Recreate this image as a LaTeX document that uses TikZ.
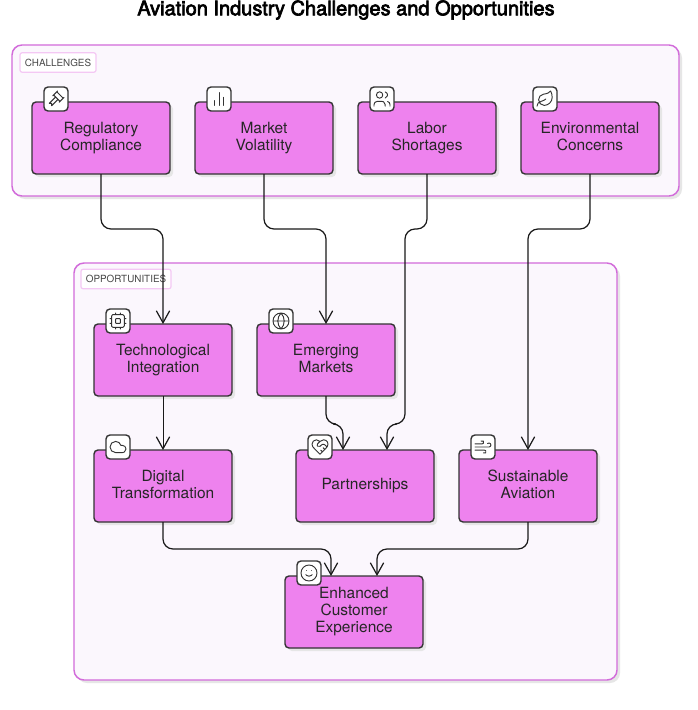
\documentclass[tikz,border=0pt]{standalone}
\usepackage{fontspec}
\setmainfont{TeX Gyre Heros}
\usetikzlibrary{arrows.meta,shadows,svg.path}
\definecolor{boxfill}{HTML}{EE82EE}
\definecolor{boxline}{HTML}{333333}
\definecolor{groupfill}{HTML}{FBF7FD}
\definecolor{groupline}{HTML}{D26BDA}
\definecolor{labelline}{HTML}{F4C8F4}
\definecolor{shade}{HTML}{E6E6E6}
\newcommand{\firststrut}{\rule{0pt}{10pt}}
\tikzset{
  shadowed/.style={drop shadow={shadow xshift=2.25pt,shadow yshift=-2.25pt,fill=shade,opacity=1}},
  groupbox/.style={draw=groupline,fill=groupfill,line width=1.1pt,rounded corners=7.5pt,shadowed,outer sep=0pt,inner sep=0pt},
  grouplabel/.style={draw=labelline,fill=white,line width=.9pt,rounded corners=1.5pt,text=boxline!90,font=\fontsize{7.4}{9}\selectfont,inner sep=0pt,outer sep=0pt,minimum height=14.5pt},
  card/.style={draw=boxline,fill=boxfill,line width=1.05pt,rounded corners=3pt,minimum width=103.5pt,minimum height=54pt,inner sep=0pt,outer sep=0pt,align=center,text=black!85,font=\fontsize{11.6}{12.75}\selectfont,shadowed},
  iconbox/.style={draw=boxline,fill=white,line width=1.05pt,rounded corners=3pt,minimum width=18pt,minimum height=18pt,inner sep=0pt,outer sep=0pt},
  glyph/.style={draw=boxline,line width=.7pt,line cap=round,line join=round,fill=none},
  link/.style={draw=black!90,line width=.9pt,rounded corners=7.5pt,-{Straight Barb[length=9pt,width=10pt,line width=.9pt]}},
}
\newcommand{\glyphat}[2]{\begin{scope}[shift={(#1.center)}]\begin{scope}[cm={0.6,0,0,-0.6,(-7.2pt,7.2pt)}]#2\end{scope}\end{scope}}
\begin{document}
\begin{tikzpicture}[x=.75pt,y=-.75pt]
\useasboundingbox (0,0) rectangle (697,710);
\fill[white] (0,0) rectangle (697,710);
\node[font=\fontsize{15}{17}\selectfont,text=black] (title) at (346,10) {\special{pdf:literal direct 2 Tr 0.5 w}Aviation Industry Challenges and Opportunities\special{pdf:literal direct 0 Tr}};
% groups
\node[groupbox,minimum width=500.25pt,minimum height=113.25pt] (gch) at (345.5,120.5) {};
\node[groupbox,minimum width=407.25pt,minimum height=312.75pt] (gop) at (345.5,471.5) {};
\node[grouplabel,minimum width=57pt] (lch) at (58,62.5) {CHALLENGES};
\node[grouplabel,minimum width=67.5pt] (lop) at (126,279) {OPPORTUNITIES};
% cards
\node[card] (reg) at (101,138) {\firststrut Regulatory\strut\\Compliance\strut};
\node[card] (mar) at (264,138) {\firststrut Market\strut\\Volatility\strut};
\node[card] (lab) at (427,138) {\firststrut Labor\strut\\Shortages\strut};
\node[card] (env) at (590,138) {\firststrut Environmental\strut\\Concerns\strut};
\node[card] (tec) at (163,360) {\firststrut Technological\strut\\Integration\strut};
\node[card] (eme) at (326,360) {\firststrut Emerging\strut\\Markets\strut};
\node[card] (dig) at (163,486) {\firststrut Digital\strut\\Transformation\strut};
\node[card] (par) at (365,486) {Partnerships\strut};
\node[card] (sus) at (528,486) {\firststrut Sustainable\strut\\Aviation\strut};
\node[card] (enh) at (354,612) {Enhanced\strut\\Customer\strut\\Experience\strut};
% icon boxes
\node[iconbox] (ireg) at (56,99) {};
\node[iconbox] (imar) at (219,99) {};
\node[iconbox] (ilab) at (382,99) {};
\node[iconbox] (ienv) at (545,99) {};
\node[iconbox] (itec) at (118,321) {};
\node[iconbox] (ieme) at (281,321) {};
\node[iconbox] (idig) at (118,447) {};
\node[iconbox] (ipar) at (320,447) {};
\node[iconbox] (isus) at (483,447) {};
\node[iconbox] (ienh) at (309,573) {};
% icon glyphs
\glyphat{ireg}{\draw[glyph] svg {M 14.5 12.5 L 6.5 20.5 A 2.119 2.119 0 1 1 3.5 17.5 L 11.5 9.5 M 16 16 L 22 10 M 8 8 L 14 2 M 9 7 L 17 15 M 21 11 L 13 3};}
\glyphat{imar}{\draw[glyph] svg {M 18 20 L 18 10 M 12 20 L 12 4 M 6 20 L 6 14};}
\glyphat{ilab}{\draw[glyph] svg {M 16 21 L 16 19 A 4 4 0 0 0 12 15 L 6 15 A 4 4 0 0 0 2 19 L 2 21 M 13 7 A 4 4 0 1 0 5 7 A 4 4 0 1 0 13 7 M 22 21 L 22 19 A 4 4 0 0 0 19 15.13 M 16 3.13 A 4 4 0 0 1 16 10.88};}
\glyphat{ienv}{\draw[glyph] svg {M 11 20 A 7 7 0 0 1 9.8 6.1 C 15.5 5 17 4.48 19 2 C 20 4 21 6.18 21 10 C 21 15.5 16.22 20 11 20 Z M 2 21 C 2 18 3.85 15.64 7.08 15 C 9.5 14.52 12 13 13 12};}
\glyphat{itec}{\draw[glyph] svg {M 6 4 L 18 4 A 2 2 0 0 1 20 6 L 20 18 A 2 2 0 0 1 18 20 L 6 20 A 2 2 0 0 1 4 18 L 4 6 A 2 2 0 0 1 6 4 Z M 10 9 L 14 9 A 1 1 0 0 1 15 10 L 15 14 A 1 1 0 0 1 14 15 L 10 15 A 1 1 0 0 1 9 14 L 9 10 A 1 1 0 0 1 10 9 Z M 15 2 L 15 4 M 15 20 L 15 22 M 2 15 L 4 15 M 2 9 L 4 9 M 20 15 L 22 15 M 20 9 L 22 9 M 9 2 L 9 4 M 9 20 L 9 22};}
\glyphat{ieme}{\draw[glyph] svg {M 22 12 A 10 10 0 1 0 2 12 A 10 10 0 1 0 22 12 M 12 2 A 14.5 14.5 0 0 0 12 22 A 14.5 14.5 0 0 0 12 2 M 2 12 L 22 12};}
\glyphat{idig}{\draw[glyph] svg {M 17.5 19 L 9 19 A 7 7 0 1 1 15.71 10 L 17.5 10 A 4.5 4.5 0 1 1 17.5 19 Z};}
\glyphat{ipar}{\draw[glyph] svg {M 19 14 C 20.49 12.54 22 10.79 22 8.5 A 5.5 5.5 0 0 0 16.5 3 C 14.74 3 13.5 3.5 12 5 C 10.5 3.5 9.26 3 7.5 3 A 5.5 5.5 0 0 0 2 8.5 C 2 10.8 3.5 12.55 5 14 L 12 21 Z M 12 5 L 9.04 7.96 A 2.17 2.17 0 0 0 9.04 11.04 C 9.86 11.86 11.17 11.89 12.04 11.11 L 14.11 9.21 A 2.82 2.82 0 0 1 17.9 9.21 L 20.86 11.87 M 18 15 L 16 13 M 15 18 L 13 16};}
\glyphat{isus}{\draw[glyph] svg {M 17.7 7.7 A 2.5 2.5 0 1 1 19.5 12 L 2 12 M 9.6 4.6 A 2 2 0 1 1 11 8 L 2 8 M 12.6 19.4 A 2 2 0 1 0 14 16 L 2 16};}
\glyphat{ienh}{\draw[glyph] svg {M 22 12 A 10 10 0 1 0 2 12 A 10 10 0 1 0 22 12 M 8 14 C 8 14 9.5 16 12 16 C 14.5 16 16 14 16 14 M 9 9 L 9.01 9 M 15 9 L 15.01 9};}
% connector helpers
\coordinate (railA) at (0,229);
\coordinate (railB) at (0,424);
\coordinate (railC) at (0,549);
\coordinate (parL) at (343,450);
\coordinate (parR) at (387,450);
\coordinate (enhL) at (331,576);
\coordinate (enhR) at (377,576);
\coordinate (sta) at (405,0);
% connectors
\draw[link] (reg.south) -- (reg.south |- railA) -- (tec.north |- railA) -- (tec.north);
\draw[link] (mar.south) -- (mar.south |- railA) -- (eme.north |- railA) -- (eme.north);
\draw[link] (lab.south) -- (lab.south |- railA) -- (sta |- railA) -- (sta |- railB) -- (parR |- railB) -- (parR);
\draw[link] (env.south) -- (env.south |- railA) -- (sus.north |- railA) -- (sus.north);
\draw[link,line width=.7pt] (tec.south) -- (dig.north);
\draw[link] (eme.south) -- (eme.south |- railB) -- (parL |- railB) -- (parL);
\draw[link] (dig.south) -- (dig.south |- railC) -- (enhL |- railC) -- (enhL);
\draw[link] (sus.south) -- (sus.south |- railC) -- (enhR |- railC) -- (enhR);
\end{tikzpicture}
\end{document}
